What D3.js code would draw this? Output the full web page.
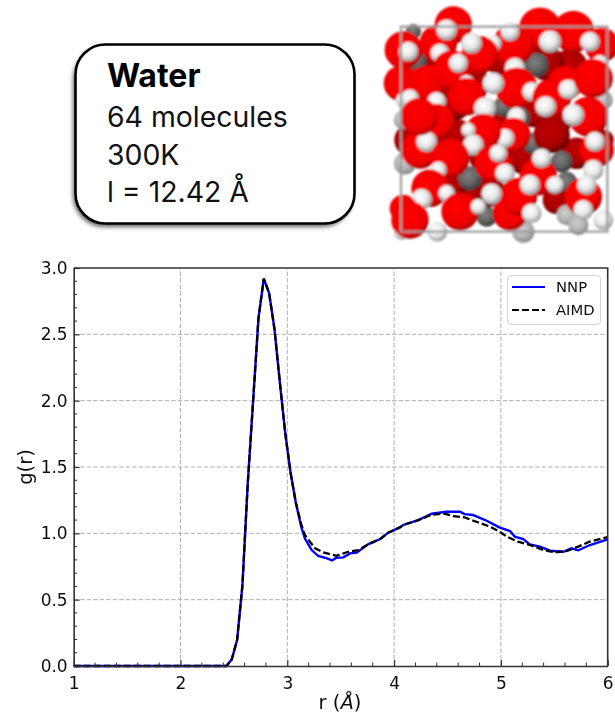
<!DOCTYPE html>
<html><head><meta charset="utf-8">
<script src="https://cdnjs.cloudflare.com/ajax/libs/d3/7.8.5/d3.min.js"></script>
<style>html,body{margin:0;padding:0;background:#fff;overflow:hidden}svg{display:block}</style>
</head><body><div id="c"></div>
<script>
const xTicks=[1,2,3,4,5,6];
const yTicks=[0,0.5,1,1.5,2,2.5,3];
const xMinor=[1.2,1.4,1.6,1.8,2.2,2.4,2.6,2.8,3.2,3.4,3.6,3.8,4.2,4.4,4.6,4.8,5.2,5.4,5.6,5.8];
const yMinor=[.1,.2,.3,.4,.6,.7,.8,.9,1.1,1.2,1.3,1.4,1.6,1.7,1.8,1.9,2.1,2.2,2.3,2.4,2.6,2.7,2.8,2.9];
const riseR=[1,2.43,2.48,2.53,2.58,2.63,2.68,2.73,2.78,2.83,2.88,2.93,2.98,3.03,3.08];
const riseG=[0,0,.05,.196,.61,1.38,2.0,2.62,2.92,2.81,2.54,2.14,1.76,1.46,1.23];
const nnpR=[3.13,3.166,3.228,3.29,3.353,3.42,3.46,3.525,3.587,3.65,3.76,3.87,3.945,4.055,4.086,4.227,4.352,4.49,4.617,4.66,4.74,4.867,4.985,5.085,5.13,5.21,5.27,5.366,5.46,5.585,5.66,5.725,5.834,6];
const nnpG=[1.05,.96,.874,.829,.816,.796,.816,.819,.849,.854,.919,.957,1.005,1.045,1.063,1.10,1.148,1.163,1.163,1.145,1.138,1.095,1.045,1.017,.975,.957,.917,.90,.869,.861,.887,.872,.912,.955];
const aimdR=[3.13,3.166,3.26,3.337,3.46,3.57,3.665,3.76,3.87,3.945,4.055,4.086,4.227,4.352,4.46,4.555,4.66,4.77,4.9,4.99,5.055,5.16,5.27,5.4,5.51,5.62,5.725,5.83,6];
const aimdG=[1.07,.985,.887,.857,.831,.861,.874,.919,.957,1.005,1.045,1.063,1.10,1.14,1.15,1.13,1.12,1.087,1.05,1.012,.975,.937,.912,.874,.857,.867,.90,.937,.972];
const legendLabels=["NNP","AIMD"];
const cardLines=["64 molecules","300K","l = 12.42 Å"];
// illustration: type, x, y, radius in picture units (back to front)
const atoms=[
["D",300,250,55],["D",250,310,50],["D",350,570,50],["D",290,590,50],["D",190,420,55],["D",260,410,50],["D",460,470,50],["D",350,470,50],["D",600,200,50],["D",530,190,50],["D",620,460,45],["D",180,170,50],["D",400,180,50],["D",470,180,45],["D",560,350,50],["D",430,300,45],["D",240,560,45],["D",560,600,40],["D",700,420,30],["D",120,420,45],["D",490,340,40],["D",380,380,45],
["d",500,195,38],["d",300,535,38],["d",575,485,34],["d",490,430,34],["d",445,355,38],["d",350,650,32],["d",140,185,32],["d",590,545,32],["d",400,320,32],["d",130,95,24],["g",700,300,30],["g",590,645,32],["g",100,360,30],["g",460,695,35],["g",105,490,35],["g",625,675,32],
["O",250,75,52],["O",510,85,58],["O",610,95,58],["O",100,150,52],["O",205,130,52],["O",430,135,58],["O",695,135,48],["O",95,250,50],["O",170,250,50],
["H",230,90,35],["H",420,95,32],["H",660,125,33],["H",115,155,33],["H",370,130,28],["H",210,160,32],["H",690,190,28],
["H",540,125,37],["O",330,165,52],["H",305,130,35],["O",245,210,54],["H",265,190,32],["H",290,250,28],
["O",585,250,48],["H",435,205,35],["H",100,300,25],
["O",290,290,52],["H",200,305,32],["O",440,265,58],["H",485,275,32],["O",545,295,54],["H",595,268,33],["H",527,320,35],
["O",670,235,54],["H",120,295,30],["H",370,250,36],["H",345,325,37],
["O",655,350,55],["H",610,345,36],
["O",200,365,50],["O",150,450,52],["H",170,425,35],["O",148,350,52],
["H",440,350,32],["D",545,405,52],["O",430,405,48],["H",405,415,32],["O",340,395,50],["H",295,390,24],["H",310,435,35],
["O",680,450,48],["H",675,425,33],
["O",370,490,52],["H",385,460,30],["H",405,520,33],["O",240,475,54],["H",205,510,28],
["O",505,530,52],["H",515,475,33],["H",555,555,30],["H",670,510,34],
["O",180,565,52],["H",230,580,28],["H",155,598,35],["O",270,635,52],["H",325,620,26],
["O",640,590,52],["H",650,555,33],["H",640,630,33],
["O",420,640,48],["O",445,590,52],["H",480,555,34],["H",485,640,33],["H",365,582,35],
["H",95,695,27],["O",100,625,38],["O",120,660,52],["H",202,695,33],["H",700,660,33]
];
const boxCorners=[93,712,80,695];

const W=615,H=715;
const svg=d3.select("#c").append("svg").attr("width",W).attr("height",H);
const defs=svg.append("defs");
function grad(id,stops){const g=defs.append("radialGradient").attr("id",id).attr("cx","42%").attr("cy","38%").attr("r","62%");
 stops.forEach(s=>g.append("stop").attr("offset",s[0]).attr("stop-color",s[1]));}
grad("gO",[[0,"#ff0000"],[.78,"#ee0000"],[1,"#a80000"]]);
grad("gD",[[0,"#c00000"],[.7,"#a80000"],[1,"#600000"]]);
grad("gH",[[0,"#ffffff"],[.55,"#e8e8e8"],[1,"#989898"]]);
grad("gd",[[0,"#808080"],[.6,"#626262"],[1,"#383838"]]);
grad("gg",[[0,"#cfcfcf"],[.6,"#b4b4b4"],[1,"#888888"]]);
defs.append("filter").attr("id","blur").append("feGaussianBlur").attr("stdDeviation",.8);
const sf=defs.append("filter").attr("id","sh").attr("x","-10%").attr("y","-10%").attr("width","120%").attr("height","125%");
sf.append("feGaussianBlur").attr("stdDeviation",2.2);
defs.append("filter").attr("id","soft").append("feGaussianBlur").attr("stdDeviation",.35);

// card
const card=svg.append("g");
card.append("rect").attr("x",73).attr("y",48).attr("width",280).attr("height",179).attr("rx",31).attr("fill","#666").attr("filter","url(#sh)");
card.append("rect").attr("x",75.5).attr("y",44.5).attr("width",279).attr("height",179).attr("rx",30).attr("fill","#fff").attr("stroke","#000").attr("stroke-width",2.6);
const fam="Inter, 'Open Sans', sans-serif";
card.append("text").attr("x",107).attr("y",87).attr("font-family",fam).attr("font-weight",700).attr("font-size",32).text("Water");
const cardY=d3.scalePoint().domain(cardLines).range([127,202]);
card.selectAll("text.l").data(cardLines).join("text").attr("class","l").attr("x",107).attr("y",d=>cardY(d)).attr("font-family",fam).attr("font-size",28.4).attr("fill","#111").text(d=>d);

// illustration
const px=d3.scaleLinear().domain([0,735]).range([370,615]);
const py=d3.scaleLinear().domain([0,750]).range([0,250]);
const pic=svg.append("g").attr("filter","url(#blur)");
const fills={O:"url(#gO)",D:"url(#gD)",H:"url(#gH)",d:"url(#gd)",g:"url(#gg)"};
const sizeOf={O:1.08,D:1.05,H:.9,d:.95,g:.95};
pic.selectAll("circle").data(atoms).join("circle").attr("cx",d=>px(d[1])).attr("cy",d=>py(d[2])).attr("r",d=>(px(d[3])-px(0))*sizeOf[d[0]]).attr("fill",d=>fills[d[0]]);
pic.append("rect").attr("x",px(boxCorners[0])).attr("y",py(boxCorners[2])).attr("width",px(boxCorners[1])-px(boxCorners[0])).attr("height",py(boxCorners[3])-py(boxCorners[2])).attr("fill","none").attr("stroke","#999").attr("stroke-width",2.2);

// chart
const x=d3.scaleLinear().domain([1,6]).range([73.7,607.7]);
const y=d3.scaleLinear().domain([0,3]).range([666,268]);
const chart=svg.append("g").attr("filter","url(#soft)");
chart.append("g").selectAll("line").data(xTicks.slice(1,-1)).join("line").attr("x1",d=>x(d)).attr("x2",d=>x(d)).attr("y1",y(0)).attr("y2",y(3));
chart.append("g").selectAll("line").data(yTicks.slice(1,-1)).join("line").attr("x1",x(1)).attr("x2",x(6)).attr("y1",d=>y(d)).attr("y2",d=>y(d));
chart.selectAll("g line").attr("stroke","#b0b0b0").attr("stroke-width",1).attr("stroke-dasharray","4.5,2");
const zip=(a,b)=>a.map((v,i)=>[v,b[i]]);
const line=d3.line().x(d=>x(d[0])).y(d=>y(d[1]));
chart.append("path").attr("d",line(zip(riseR.concat(nnpR),riseG.concat(nnpG)))).attr("fill","none").attr("stroke","#0000ff").attr("stroke-width",2.4);
chart.append("path").attr("d",line(zip(riseR.concat(aimdR),riseG.concat(aimdG)))).attr("fill","none").attr("stroke","#000").attr("stroke-width",2.3).attr("stroke-dasharray","7,3");

function axis(g,ax){g.call(ax);g.selectAll("text").attr("font-family","'DejaVu Sans'").attr("font-size",17).attr("fill","#111");g.selectAll("line").attr("stroke","#333").attr("stroke-width",1.2);g.select(".domain").attr("stroke","#333").attr("stroke-width",1.6);}
const bx=chart.append("g").attr("transform",`translate(0,${y(0)})`);
axis(bx,d3.axisBottom(x).tickValues(xTicks).tickFormat(d3.format("d")).tickSizeInner(-6).tickSizeOuter(0).tickPadding(11));
const lx=chart.append("g").attr("transform",`translate(${x(1)},0)`);
axis(lx,d3.axisLeft(y).tickValues(yTicks).tickFormat(d3.format(".1f")).tickSizeInner(-6).tickSizeOuter(0).tickPadding(6));
chart.append("g").selectAll("line").data(xMinor).join("line").attr("x1",d=>x(d)).attr("x2",d=>x(d)).attr("y1",y(0)).attr("y2",y(0)-3.5).attr("stroke","#333");
chart.append("g").selectAll("line").data(yMinor).join("line").attr("y1",d=>y(d)).attr("y2",d=>y(d)).attr("x1",x(1)).attr("x2",x(1)+3.5).attr("stroke","#333");
chart.append("path").attr("d",`M${x(1)},${y(3)}H${x(6)}V${y(0)}`).attr("fill","none").attr("stroke","#333").attr("stroke-width",1.6);

const tx=chart.append("text").attr("x",340).attr("y",709).attr("text-anchor","middle").attr("font-family","'DejaVu Sans'").attr("font-size",19.5).attr("fill","#111");
tx.append("tspan").text("r (");tx.append("tspan").attr("font-style","italic").text("Å");tx.append("tspan").text(")");
chart.append("text").attr("transform","translate(32,467) rotate(-90)").attr("text-anchor","middle").attr("font-family","'DejaVu Sans'").attr("font-size",19.5).attr("fill","#111").text("g(r)");

// legend
const leg=chart.append("g");
leg.append("rect").attr("x",507.5).attr("y",275.5).attr("width",93).attr("height",49).attr("rx",3).attr("fill","#fff").attr("fill-opacity",.9).attr("stroke","#d5d5d5");
const ly=d3.scalePoint().domain(legendLabels).range([287,310]);
leg.selectAll("line").data(legendLabels).join("line").attr("x1",512).attr("x2",545).attr("y1",d=>ly(d)).attr("y2",d=>ly(d)).attr("stroke",(d,i)=>i?"#000":"#0000ff").attr("stroke-width",2).attr("stroke-dasharray",(d,i)=>i?"7,3":null);
leg.selectAll("text").data(legendLabels).join("text").attr("x",556).attr("y",d=>ly(d)+5).attr("font-family","'DejaVu Sans'").attr("font-size",14.8).attr("fill","#111").text(d=>d);
</script></body></html>
